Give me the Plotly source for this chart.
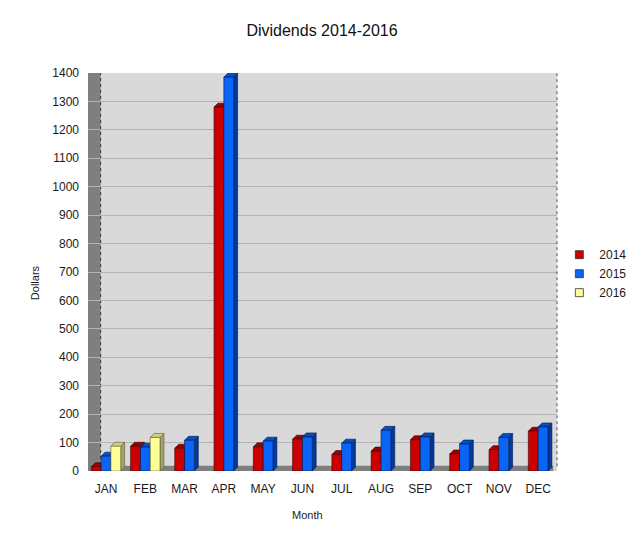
import plotly.graph_objects as go

# ---------------- data ----------------
months = ["JAN", "FEB", "MAR", "APR", "MAY", "JUN",
          "JUL", "AUG", "SEP", "OCT", "NOV", "DEC"]
years = ["2014", "2015", "2016"]
div_2014 = [15, 87, 80, 1280, 85, 112, 58, 70, 110, 60, 75, 140]
div_2015 = [52, 84, 108, 1385, 105, 120, 98, 143, 120, 95, 118, 155]
div_2016 = [87, 118, None, None, None, None, None, None, None, None, None, None]
y_ticks = list(range(0, 1401, 100))

series = [div_2014, div_2015, div_2016]
front_col = ["#cc0000", "#0a64f5", "#ffff99"]
side_col = ["#7a0000", "#003a9c", "#a3a36a"]
top_col = ["#9e0000", "#0050c8", "#cfcf85"]
edge_col = ["#3a0000", "#001a50", "#5a5a30"]

bw = 0.25   # front width (x units)
dx = 0.1    # depth offset x
dy = 14     # depth offset y (dollars)


def bar_positions():
    """x position of every bar, groups centred on the month"""
    pos = [[None] * len(months) for _ in series]
    for i in range(len(months)):
        present = [k for k, s in enumerate(series) if s[i] is not None]
        n = len(present)
        for j, k in enumerate(present):
            pos[k][i] = i + (j - (n - 1) / 2) * bw
    return pos


def polys(xc, h, part):
    xs, ys = [], []
    for x, v in zip(xc, h):
        if v is None:
            continue
        xl, xr = x - bw / 2, x + bw / 2
        if part == "front":
            px, py = [xl, xr, xr, xl, xl], [0, 0, v, v, 0]
        elif part == "side":
            px, py = [xr, xr + dx, xr + dx, xr, xr], [0, dy, v + dy, v, 0]
        else:
            px, py = [xl, xr, xr + dx, xl + dx, xl], [v, v, v + dy, v + dy, v]
        xs += px + [None]
        ys += py + [None]
    return xs, ys


pos = bar_positions()
fig = go.Figure()

for k, s in enumerate(series):
    for part, col in (("side", side_col[k]), ("top", top_col[k]), ("front", front_col[k])):
        px, py = polys(pos[k], s, part)
        fig.add_trace(go.Scatter(
            x=px, y=py, mode="lines", fill="toself", fillcolor=col,
            line=dict(color=edge_col[k], width=0.6),
            name=years[k], showlegend=False,
            legendgroup=years[k], hoverinfo="skip"))

# legend entries (square keys)
for k in range(len(series)):
    fig.add_trace(go.Scatter(
        x=[None], y=[None], mode="markers", name=years[k], legendgroup=years[k],
        marker=dict(symbol="square", size=8, color=front_col[k],
                    line=dict(color="#333333", width=0.8))))

shapes = [
    # left wall
    dict(type="rect", xref="paper", yref="paper", x0=0, x1=0.027, y0=0, y1=1,
         fillcolor="#7f7f7f", line_width=0, layer="below"),
    dict(type="line", xref="paper", yref="paper", x0=0.027, x1=0.027, y0=0, y1=1,
         line=dict(color="#333333", width=1, dash="dot"), layer="below"),
    # right edge
    dict(type="line", xref="paper", yref="paper", x0=1, x1=1, y0=0.012, y1=1,
         line=dict(color="#555555", width=1, dash="dot")),
    # floor
    dict(type="rect", xref="paper", yref="paper", x0=0.015, x1=0.992, y0=0, y1=0.013,
         fillcolor="#7f7f7f", line_width=0, layer="below"),
]

# page body adds an 8px margin, so the figure is 8px smaller than the window
fig.update_layout(
    width=632, height=536,
    margin=dict(l=80, r=83, t=65, b=73, autoexpand=False),
    paper_bgcolor="white", plot_bgcolor="#d9d9d9",
    font=dict(family="Liberation Sans, Arial, sans-serif", size=12, color="#1a1a1a"),
    title=dict(text="Dividends 2014-2016", x=314 / 632, xref="container",
               y=1 - 22 / 536, yref="container", yanchor="middle",
               font=dict(size=16, color="#111111")),
    xaxis=dict(range=[-0.458, 11.48], tickvals=list(range(len(months))),
               ticktext=months, showgrid=False, zeroline=False,
               showline=False, ticks="", ticklabelstandoff=9, fixedrange=True),
    yaxis=dict(range=[0, 1400], tickvals=y_ticks, showgrid=True,
               gridcolor="#b3b3b3", gridwidth=1, zeroline=False,
               showline=False, ticks="", ticklabelstandoff=8, fixedrange=True),
    legend=dict(x=1.005, y=0.58, xanchor="left", yanchor="top",
                font=dict(size=12), bgcolor="rgba(0,0,0,0)",
                tracegroupgap=0, itemwidth=30),
    shapes=shapes,
    annotations=[
        dict(text="Dollars", xref="paper", yref="paper", x=-0.130, y=0.472,
             showarrow=False, textangle=-90, font=dict(size=11)),
        dict(text="Month", xref="paper", yref="paper", x=0.467, y=-0.131,
             showarrow=False, font=dict(size=11)),
    ],
)

fig.write_html("out.html")
